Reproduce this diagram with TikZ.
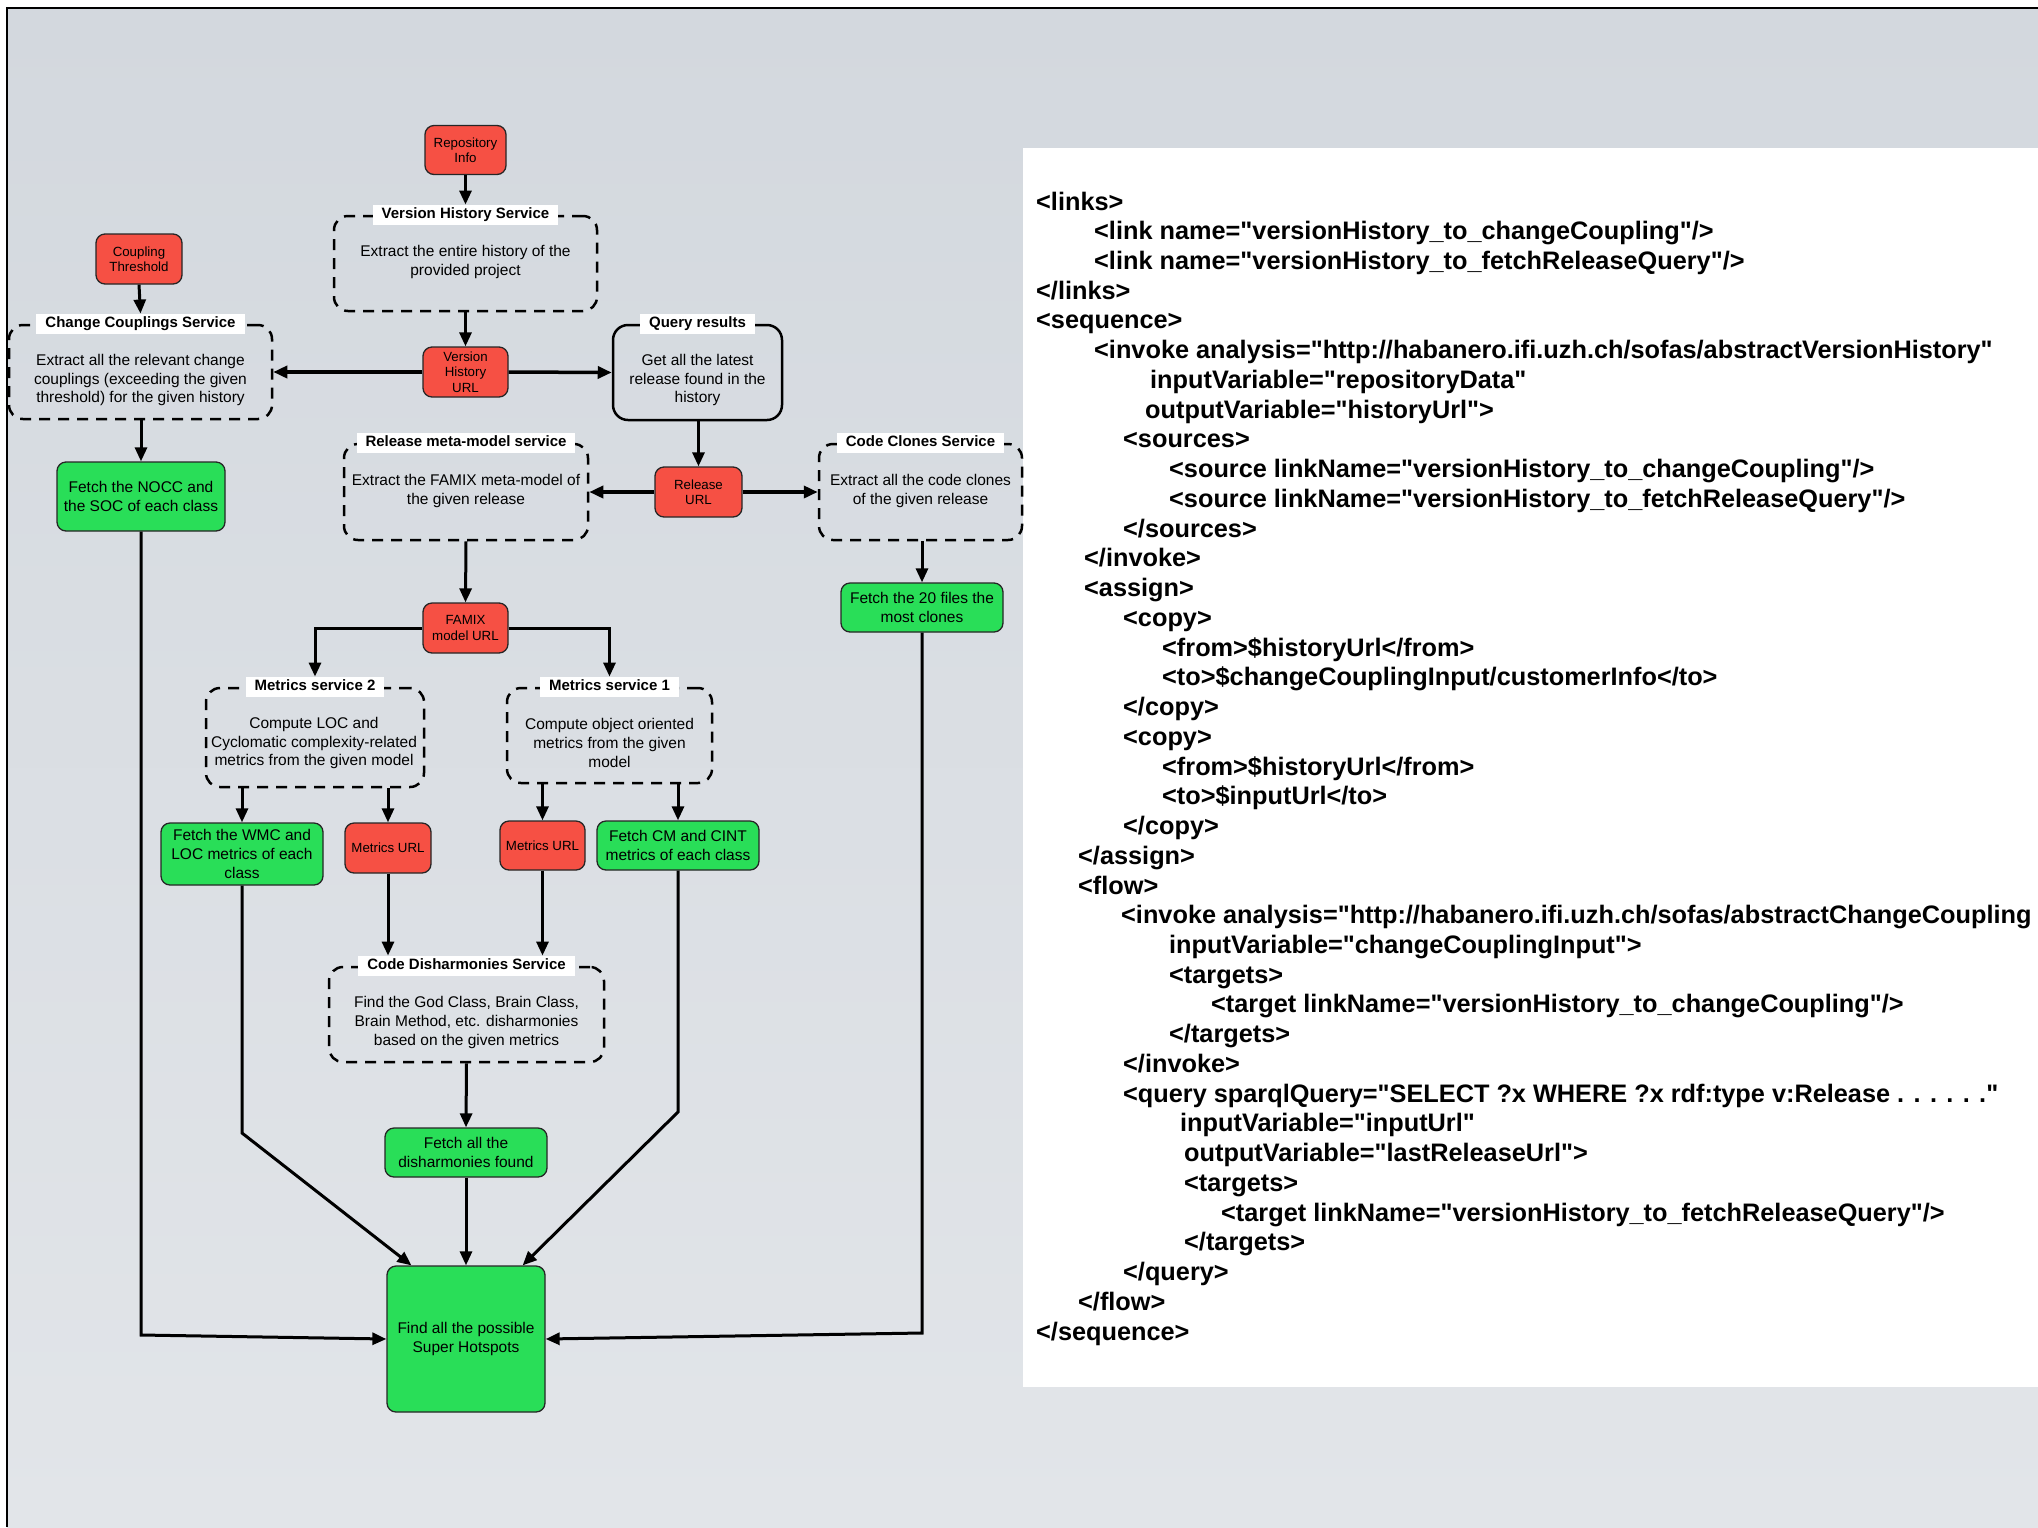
\documentclass[tikz,border=0pt]{standalone}
\usepackage{fontspec}
\setmainfont{Liberation Sans}
\newfontfamily\xmlfont{Liberation Sans}[Ligatures=TeXOff]
\usetikzlibrary{arrows.meta}
\definecolor{redn}{RGB}{246,80,68}
\definecolor{grn}{RGB}{41,222,88}
\definecolor{bgtop}{RGB}{211,216,222}
\definecolor{bgmid}{RGB}{230,232,236}
\definecolor{bgbot}{RGB}{226,229,233}
\begin{document}
\begin{tikzpicture}[x=1pt,y=-1pt,
  redbox/.style={draw=black!85, line width=1.3pt, fill=redn, rounded corners=9pt, align=center, inner sep=0pt, font=\fontsize{13.3}{15.5}\selectfont},
  grnbox/.style={draw=black!85, line width=1.3pt, fill=grn, rounded corners=9pt, align=center, inner sep=0pt, font=\fontsize{15.5}{19}\selectfont},
  svcbox/.style={draw=black, line width=2.5pt, dash pattern=on 11pt off 8pt, rounded corners=14pt, inner sep=0pt},
  qbox/.style={draw=black, line width=2.5pt, rounded corners=15pt, inner sep=0pt},
  ttl/.style={fill=white, inner xsep=9pt, inner ysep=0pt, minimum height=20pt, text height=11pt, text depth=3pt, font=\bfseries\fontsize{15}{18}\selectfont},
  body/.style={align=center, inner sep=0pt, font=\fontsize{15.5}{18.7}\selectfont},
  arr/.style={line width=3pt, -{Triangle[length=14pt,width=12pt]}},
  xml/.style={anchor=base west, inner sep=0pt, font=\xmlfont\bfseries\fontsize{25.3}{30}\selectfont}
]
\useasboundingbox (0,0) rectangle (2038,1527);
\begin{scope}
\clip (0,0) rectangle (2038,1527);
% background
\fill[white] (0,0) rectangle (2038,1527);
\shade[top color=bgtop, middle color=bgmid, bottom color=bgbot] (7,8) rectangle (2038,1527);
\draw[line width=1.5pt] (7,1527) -- (7,8) -- (2038,8);
% XML panel
\fill[white] (1023,148) rectangle (2038,1387);

% ---------- diagram nodes ----------
\node[redbox, minimum width=81pt, minimum height=49pt] (repo) at (465.5,150) {Repository\\Info};
\node[svcbox, minimum width=263pt, minimum height=95pt] (vhs) at (465.5,263.5) {};
\node[ttl] (vhsT) at (vhs.north) {Version History Service};
\node[body] (vhsB) at (465.5,262) {Extract the entire history of the\\provided project};

\node[redbox, minimum width=86pt, minimum height=50pt] (thr) at (139,259) {Coupling\\Threshold};
\node[svcbox, minimum width=263pt, minimum height=94pt] (ccs) at (140.5,372) {};
\node[ttl] (ccsT) at (ccs.north) {Change Couplings Service};
\node[body] (ccsB) at (140.5,380) {Extract all the relevant change\\couplings (exceeding the given\\threshold) for the given history};

\node[redbox, minimum width=85pt, minimum height=50pt] (vhurl) at (465.5,372) {Version\\History\\URL};

\node[qbox, minimum width=169pt, minimum height=95pt] (qr) at (697.5,372.5) {};
\node[ttl] (qrT) at (qr.north) {Query results};
\node[body] (qrB) at (697.5,380) {Get all the latest\\release found in the\\history};

\node[svcbox, minimum width=244pt, minimum height=96pt] (rmm) at (466,492) {};
\node[ttl] (rmmT) at (rmm.north) {Release meta-model service};
\node[body] (rmmB) at (466,491) {Extract the FAMIX meta-model of\\the given release};

\node[redbox, minimum width=87pt, minimum height=50pt] (rel) at (698.5,492) {Release\\URL};

\node[svcbox, minimum width=203pt, minimum height=96pt] (ccl) at (920.5,492) {};
\node[ttl] (cclT) at (ccl.north) {Code Clones Service};
\node[body] (cclB) at (920.5,491) {Extract all the code clones\\of the given release};

\node[grnbox, minimum width=168pt, minimum height=69pt] (nocc) at (141,496.5) {Fetch the NOCC and\\the SOC of each class};
\node[grnbox, minimum width=162pt, minimum height=49pt] (f20) at (922,607.5) {Fetch the 20 files the\\most clones};

\node[redbox, minimum width=85pt, minimum height=50pt] (famix) at (465.5,628) {FAMIX\\model URL};

\node[svcbox, minimum width=218pt, minimum height=99pt] (ms2) at (315,737.5) {};
\node[ttl] (ms2T) at (ms2.north) {Metrics service 2};
\node[body] (ms2B) at (314,743) {Compute LOC and\\Cyclomatic complexity-related\\metrics from the given model};

\node[svcbox, minimum width=205pt, minimum height=95pt] (ms1) at (609.5,735.5) {};
\node[ttl] (ms1T) at (ms1.north) {Metrics service 1};
\node[body] (ms1B) at (609.5,743) {Compute object oriented\\metrics from the given\\model};

\node[grnbox, minimum width=162pt, minimum height=62pt] (wmc) at (242,854) {Fetch the WMC and\\LOC metrics of each\\class};
\node[redbox, minimum width=86pt, minimum height=50pt] (murl2) at (388,848) {Metrics URL};
\node[redbox, minimum width=85pt, minimum height=49pt] (murl1) at (542.5,845.5) {Metrics URL};
\node[grnbox, minimum width=162pt, minimum height=49pt] (cm) at (678,845.5) {Fetch CM and CINT\\metrics of each class};

\node[svcbox, minimum width=275pt, minimum height=95pt] (cds) at (466.5,1014.5) {};
\node[ttl] (cdsT) at (cds.north) {Code Disharmonies Service};
\node[body] (cdsB) at (466.5,1022.5) {Find the God Class, Brain Class,\\Brain Method, etc. disharmonies\\based on the given metrics};

\node[grnbox, minimum width=162pt, minimum height=49pt] (fdis) at (466,1152.5) {Fetch all the\\disharmonies found};
\node[grnbox, minimum width=158pt, minimum height=146pt] (super) at (466,1339) {Find all the possible\\Super Hotspots};

\coordinate (b1) at (141,1335);
\coordinate (b2) at (242,1133);
\coordinate (b3) at (678,1112);
\coordinate (b4) at (922,1333);

% ---------- connectors ----------
\draw[arr] (repo.south) -- (vhsT.north);
\draw[arr] (thr.south) -- (ccsT.north);
\draw[arr] (vhs.south) -- (vhurl.north);
\draw[arr, line width=3.5pt] (vhurl.west) -- (ccs.east);
\draw[arr, line width=3.5pt] (vhurl.east) -- (qr.west);
\draw[arr] (ccs.south -| nocc.north) -- (nocc.north);
\draw[arr] (qr.south -| rel.north) -- (rel.north);
\draw[arr, line width=3.5pt] (rel.west) -- (rmm.east);
\draw[arr, line width=3.5pt] (rel.east) -- (ccl.west);
\draw[arr] (rmm.south) -- (famix.north);
\draw[arr] (ccl.south -| f20.north) -- (f20.north);
\draw[arr] (famix.west) -| (ms2T.north);
\draw[arr] (famix.east) -| (ms1T.north);
\draw[arr] (wmc.north |- ms2.south) -- (wmc.north);
\draw[arr] (murl2.north |- ms2.south) -- (murl2.north);
\draw[arr] (murl1.north |- ms1.south) -- (murl1.north);
\draw[arr] (cm.north |- ms1.south) -- (cm.north);
\draw[arr] (murl2.south) -- (murl2.south |- cdsT.north);
\draw[arr] (murl1.south) -- (murl1.south |- cdsT.north);
\draw[arr] (cds.south) -- (fdis.north);
\draw[arr] (fdis.south) -- (super.north);
\draw[arr] (nocc.south) -- (b1) -- (super.west);
\draw[arr] (wmc.south) -- (b2) -- ([xshift=25pt]super.north west);
\draw[arr] (cm.south) -- (b3) -- ([xshift=-23pt]super.north east);
\draw[arr] (f20.south) -- (b4) -- (super.east);

% ---------- XML ----------
\node[xml] (x1) at (1036,210) {<links>};
\node[xml] (x2) at (1094,239.74) {<link name="versionHistory\_to\_changeCoupling"/>};
\node[xml] (x3) at (1094,269.48) {<link name="versionHistory\_to\_fetchReleaseQuery"/>};
\node[xml] (x4) at (1036,299.22) {</links>};
\node[xml] (x5) at (1036,328.96) {<sequence>};
\node[xml] (x6) at (1094,358.70) {<invoke analysis="http://habanero.ifi.uzh.ch/sofas/abstractVersionHistory"};
\node[xml] (x7) at (1150,388.44) {inputVariable="repositoryData"};
\node[xml] (x8) at (1145,418.18) {outputVariable="historyUrl">};
\node[xml] (x9) at (1123,447.92) {<sources>};
\node[xml] (x10) at (1169,477.66) {<source linkName="versionHistory\_to\_changeCoupling"/>};
\node[xml] (x11) at (1169,507.40) {<source linkName="versionHistory\_to\_fetchReleaseQuery"/>};
\node[xml] (x12) at (1123,537.14) {</sources>};
\node[xml] (x13) at (1084,566.88) {</invoke>};
\node[xml] (x14) at (1084,596.62) {<assign>};
\node[xml] (x15) at (1123,626.36) {<copy>};
\node[xml] (x16) at (1162,656.10) {<from>\$historyUrl</from>};
\node[xml] (x17) at (1162,685.84) {<to>\$changeCouplingInput/customerInfo</to>};
\node[xml] (x18) at (1123,715.58) {</copy>};
\node[xml] (x19) at (1123,745.32) {<copy>};
\node[xml] (x20) at (1162,775.06) {<from>\$historyUrl</from>};
\node[xml] (x21) at (1162,804.80) {<to>\$inputUrl</to>};
\node[xml] (x22) at (1123,834.54) {</copy>};
\node[xml] (x23) at (1078,864.28) {</assign>};
\node[xml] (x24) at (1078,894.02) {<flow>};
\node[xml] (x25) at (1121,923.76) {<invoke analysis="http://habanero.ifi.uzh.ch/sofas/abstractChangeCoupling};
\node[xml] (x26) at (1169,953.50) {inputVariable="changeCouplingInput">};
\node[xml] (x27) at (1169,983.24) {<targets>};
\node[xml] (x28) at (1211,1012.98) {<target linkName="versionHistory\_to\_changeCoupling"/>};
\node[xml] (x29) at (1169,1042.72) {</targets>};
\node[xml] (x30) at (1123,1072.46) {</invoke>};
\node[xml] (x31) at (1123,1102.20) {<query sparqlQuery="SELECT ?x WHERE ?x rdf:type v:Release . . . . . ."};
\node[xml] (x32) at (1180,1131.94) {inputVariable="inputUrl"};
\node[xml] (x33) at (1184,1161.68) {outputVariable="lastReleaseUrl">};
\node[xml] (x34) at (1184,1191.42) {<targets>};
\node[xml] (x35) at (1221,1221.16) {<target linkName="versionHistory\_to\_fetchReleaseQuery"/>};
\node[xml] (x36) at (1184,1250.90) {</targets>};
\node[xml] (x37) at (1123,1280.64) {</query>};
\node[xml] (x38) at (1078,1310.38) {</flow>};
\node[xml] (x39) at (1036,1340.12) {</sequence>};
\end{scope}
\end{tikzpicture}
\end{document}
